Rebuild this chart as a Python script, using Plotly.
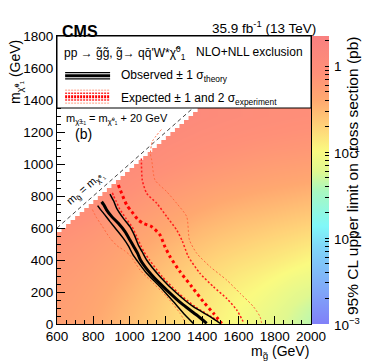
import numpy as np
import plotly.graph_objects as go

# --- grid of the limit map (pb) ---
m_gluino = [600, 700, 800, 900, 1000, 1100, 1200, 1300, 1400, 1500, 1600, 1700, 1800, 1900, 2000]
m_lsp = [0, 100, 200, 300, 400, 500, 600, 700, 800, 900, 1000, 1100, 1200, 1300]
limit_pb = [
    [0.52, 0.47, 0.41, 0.34, 0.28, 0.23, 0.19, 0.155, 0.13, 0.11, 0.095, 0.08, 0.065, 0.052, 0.042],
    [0.55, 0.50, 0.44, 0.37, 0.30, 0.25, 0.20, 0.165, 0.14, 0.12, 0.10, 0.087, 0.072, 0.058, 0.048],
    [0.58, 0.53, 0.47, 0.40, 0.33, 0.27, 0.22, 0.18, 0.155, 0.13, 0.115, 0.10, 0.085, 0.07, 0.06],
    [0.62, 0.57, 0.51, 0.44, 0.37, 0.30, 0.25, 0.21, 0.18, 0.155, 0.135, 0.12, 0.105, 0.09, 0.08],
    [0.67, 0.62, 0.56, 0.49, 0.41, 0.34, 0.29, 0.245, 0.21, 0.185, 0.165, 0.15, 0.135, 0.12, 0.105],
    [0.74, 0.68, 0.62, 0.55, 0.47, 0.40, 0.34, 0.29, 0.255, 0.225, 0.205, 0.185, 0.17, 0.155, 0.14],
    [0.85, 0.78, 0.71, 0.63, 0.55, 0.47, 0.41, 0.36, 0.31, 0.28, 0.255, 0.235, 0.215, 0.20, 0.185],
    [1.00, 0.95, 0.83, 0.74, 0.65, 0.57, 0.50, 0.44, 0.39, 0.35, 0.32, 0.30, 0.28, 0.26, 0.245],
    [1.10, 1.05, 1.00, 0.87, 0.77, 0.68, 0.60, 0.54, 0.49, 0.44, 0.41, 0.38, 0.36, 0.34, 0.32],
    [1.20, 1.15, 1.10, 1.05, 0.90, 0.80, 0.72, 0.66, 0.60, 0.56, 0.52, 0.49, 0.46, 0.44, 0.42],
    [1.30, 1.25, 1.20, 1.15, 1.10, 0.95, 0.86, 0.79, 0.73, 0.68, 0.64, 0.60, 0.57, 0.55, 0.53],
    [1.40, 1.35, 1.30, 1.25, 1.20, 1.15, 1.00, 0.92, 0.86, 0.81, 0.77, 0.73, 0.70, 0.68, 0.66],
    [1.50, 1.45, 1.40, 1.35, 1.30, 1.25, 1.20, 1.08, 1.00, 0.95, 0.90, 0.86, 0.83, 0.80, 0.78],
    [1.60, 1.55, 1.50, 1.45, 1.40, 1.35, 1.30, 1.25, 1.15, 1.08, 1.03, 0.98, 0.95, 0.92, 0.90],
]

# --- exclusion contours (m_gluino, m_lsp) ---
obs_x = [846, 858, 874, 902, 938, 975, 1002, 1025, 1045, 1060, 1122, 1205, 1296, 1370, 1425]
obs_y = [764, 745, 712, 671, 629, 577, 525, 480, 440, 400, 306, 212, 119, 56, 4]
obs_m1_x = [824, 840, 858, 892, 929, 966, 995, 1020, 1039, 1094, 1168, 1241, 1306, 1351]
obs_m1_y = [740, 715, 690, 640, 588, 535, 485, 430, 400, 317, 233, 140, 56, 4]
obs_p1_x = [892, 900, 912, 929, 966, 1002, 1030, 1050, 1070, 1094, 1168, 1260, 1351, 1444, 1499]
obs_p1_y = [812, 795, 770, 723, 660, 608, 546, 490, 450, 400, 296, 192, 108, 46, 4]

exp_x = [938, 956, 984, 1012, 1048, 1076, 1122, 1168, 1195, 1223, 1278, 1343, 1406, 1462, 1508]
exp_y = [869, 817, 744, 702, 650, 629, 608, 556, 483, 421, 327, 233, 140, 67, 4]
exp_m1_x = [905, 912, 925, 945, 980, 1015, 1040, 1062, 1080, 1110, 1180, 1270, 1362, 1450, 1512]
exp_m1_y = [820, 800, 770, 720, 660, 605, 545, 490, 450, 400, 296, 192, 108, 46, 4]
exp_p1_x = [1065, 1070, 1094, 1150, 1205, 1260, 1290, 1324, 1388, 1462, 1535, 1591, 1631]
exp_p1_y = [1035, 900, 817, 754, 671, 587, 520, 421, 317, 233, 160, 87, 4]
exp_m2_x = [795, 815, 850, 890, 930, 970, 1002, 1058, 1131, 1205, 1278, 1310]
exp_m2_y = [715, 670, 610, 540, 490, 460, 430, 337, 254, 171, 67, 4]
exp_p2_x = [1175, 1125, 1115, 1122, 1140, 1205, 1260, 1315, 1330, 1370, 1444, 1535, 1609, 1683, 1719, 1728]
exp_p2_y = [1215, 1140, 1060, 1025, 900, 827, 754, 671, 525, 442, 358, 275, 192, 108, 46, 4]

diag = [600, 1800]
bin_edges = np.arange(600, 1850, 25)

cb_major = [-3, -2, -1, 0]
cb_labels = ["10<sup>−3</sup>", "10<sup>−2</sup>", "10<sup>−1</sup>", "1"]
Z_MIN, Z_MAX = -3, 0.35

FONT = "Liberation Sans, Arial, Helvetica, sans-serif"

colorscale = [
    [0.00, "#8080f8"],
    [0.12, "#80a8f8"],
    [0.27, "#80d8f8"],
    [0.34, "#80f8f8"],
    [0.46, "#a8f8c0"],
    [0.53, "#e0f890"],
    [0.60, "#fafa80"],
    [0.69, "#ffd078"],
    [0.78, "#ffa870"],
    [0.87, "#ff9078"],
    [1.00, "#f88080"],
]

# colorbar ticks: decades + minor ticks (labels drawn as annotations, closer to the bar)
tickvals = []
for d in cb_major:
    for k in range(1, 10):
        v = d + np.log10(k)
        if v > Z_MAX:
            break
        tickvals.append(v)

fig = go.Figure()

fig.add_trace(go.Heatmap(
    x=m_gluino, y=m_lsp, z=np.log10(np.array(limit_pb)),
    zsmooth="best", colorscale=colorscale, zmin=Z_MIN, zmax=Z_MAX,
    colorbar=dict(
        thickness=17, thicknessmode="pixels", len=1, y=0.5, yanchor="middle",
        x=1.004, xanchor="left", xpad=0, ypad=0, outlinewidth=0,
        tickvals=tickvals, showticklabels=False, ticks="inside", ticklen=4,
        tickcolor="black",
    ),
    hoverinfo="skip",
))

# kinematically forbidden region (white staircase)
mask_x = list(np.repeat(bin_edges, 2)[1:]) + [600]
mask_y = list(np.repeat(bin_edges - 25, 2)[:-1]) + [1800]
fig.add_trace(go.Scatter(x=mask_x, y=mask_y, fill="toself", fillcolor="white",
                         line=dict(width=0), mode="lines", hoverinfo="skip"))

fig.add_trace(go.Scatter(x=diag, y=diag, mode="lines",
                         line=dict(color="#444", width=1, dash="4px,3px")))

def curve(x, y, color, width, dash="solid"):
    fig.add_trace(go.Scatter(x=x, y=y, mode="lines",
                             line=dict(color=color, width=width, dash=dash,
                                       shape="spline", smoothing=0.6)))

curve(exp_m2_x, exp_m2_y, "#ff6a40", 1, "2px,2px")
curve(exp_p2_x, exp_p2_y, "#ff6a40", 1, "2px,2px")
curve(exp_m1_x, exp_m1_y, "#ff1a1a", 1.5, "2px,2px")
curve(exp_p1_x, exp_p1_y, "#ff1a1a", 1.5, "2px,2px")
curve(exp_x, exp_y, "#ff0000", 3, "3px,3px")
curve(obs_m1_x, obs_m1_y, "black", 1.5)
curve(obs_p1_x, obs_p1_y, "black", 1.5)
curve(obs_x, obs_y, "black", 3)

# legend box
shapes = [dict(type="rect", xref="paper", yref="y", x0=0, x1=1, y0=1350, y1=1800,
               fillcolor="white", line=dict(color="black", width=1), layer="above")]
# legend glyphs
for yy, w in [(0.873, 1.3), (0.862, 3), (0.851, 1.3)]:
    shapes.append(dict(type="line", xref="paper", yref="paper", x0=0.032, x1=0.209,
                       y0=yy, y1=yy, line=dict(color="black", width=w), layer="above"))
for yy, c, w in [(0.812, "#ff9a80", 1), (0.801, "#ff3030", 1.5), (0.789, "#ff0000", 3),
                 (0.778, "#ff3030", 1.5), (0.767, "#ff9a80", 1)]:
    shapes.append(dict(type="line", xref="paper", yref="paper", x0=0.032, x1=0.209,
                       y0=yy, y1=yy, line=dict(color=c, width=w, dash="2px,1px"), layer="above"))

def txt(x, y, s, size, xanchor="left", angle=0, bold=False, xref="paper", yref="paper"):
    fig.add_annotation(x=x, y=y, xref=xref, yref=yref, text=("<b>%s</b>" % s) if bold else s,
                       showarrow=False, xanchor=xanchor, yanchor="middle", textangle=angle,
                       font=dict(family=FONT, size=size, color="black"))

txt(0.012, 1.016, "CMS", 16, bold=True)
txt(1.028, 1.032, "35.9 fb<sup>-1</sup> (13 TeV)", 13.5, xanchor="right")
txt(0.02, 0.94, "pp → g̃g̃, g̃→ qq̄'W*χ̃<sup>0</sup><sub>1</sub>", 12)
txt(0.976, 0.944, "NLO+NLL exclusion", 12, xanchor="right")
txt(0.244, 0.86, "Observed ± 1 σ<sub>theory</sub>", 12)
txt(0.244, 0.78, "Expected ± 1 and 2 σ<sub>experiment</sub>", 12)
txt(0.028, 0.713, "m<sub>χ̃±₁</sub> = m<sub>χ̃⁰₁</sub> + 20 GeV", 11)
txt(0.063, 0.658, "(b)", 14)
txt(0.114, 0.472, "m<sub>g̃</sub> = m<sub>χ̃⁰₁</sub>", 11, xanchor="center", angle=-41)
txt(-0.161, 0.875, "m<sub>χ̃⁰₁</sub> (GeV)", 14, xanchor="center", angle=-90)
txt(1.0, -0.097, "m<sub>g̃</sub> (GeV)", 14, xanchor="right")
txt(1.163, 0.515, "95% CL upper limit on cross section (pb)", 15.5, xanchor="center", angle=-90)
for d, lab in zip(cb_major, cb_labels):
    txt(1.083, (d - Z_MIN) / (Z_MAX - Z_MIN), lab, 13.5)

axis_common = dict(ticks="inside", ticklen=8, tickcolor="black", showline=True, linecolor="black",
                   linewidth=1, mirror=True, showgrid=False, zeroline=False,
                   tickfont=dict(family=FONT, size=13.5, color="black"))
# the page adds an 8 px body margin, so the figure is 8 px smaller each way
fig.update_layout(
    width=366, height=355,
    margin=dict(l=49, r=63, t=28, b=39, autoexpand=False),
    paper_bgcolor="white", plot_bgcolor="white",
    showlegend=False, shapes=shapes,
    xaxis=dict(range=[600, 2000], tick0=600, dtick=200,
               minor=dict(dtick=50, ticklen=4, ticks="inside", tickcolor="black"), **axis_common),
    yaxis=dict(range=[0, 1800], tick0=0, dtick=200,
               minor=dict(dtick=50, ticklen=4, ticks="inside", tickcolor="black"), **axis_common),
)

fig.write_html("out.html")
